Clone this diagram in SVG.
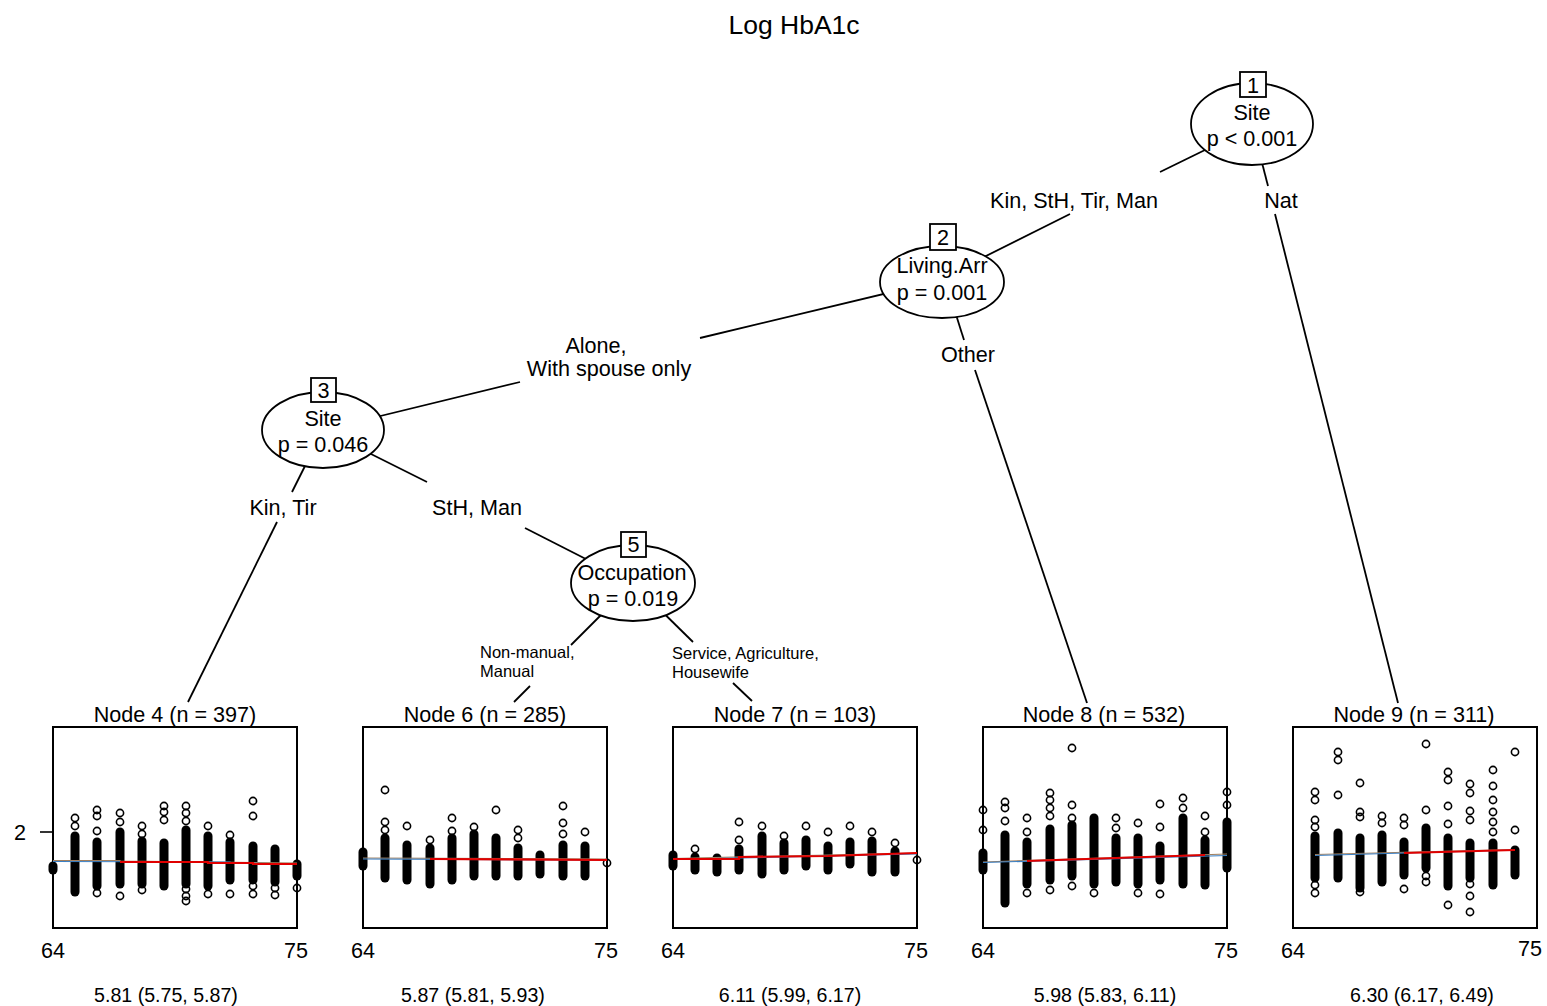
<svg xmlns="http://www.w3.org/2000/svg" width="1547" height="1006" viewBox="0 0 1547 1006">
<style>
text{font-family:"Liberation Sans",Arial,sans-serif;fill:#000}
.t21{font-size:21.6px}
.ttl{font-size:26.5px}
.sm{font-size:16.5px}
.bot{font-size:19.6px}
.edge{stroke:#000;stroke-width:1.8;fill:none}
.ell{fill:#fff;stroke:#000;stroke-width:1.8}
.box{fill:#fff;stroke:#000;stroke-width:1.8}
.frame{fill:#fff;stroke:#000;stroke-width:2}
.pt{fill:none;stroke:#000;stroke-width:1.6}
.bar{stroke:#000;stroke-width:9;stroke-linecap:round}
.fr{stroke:#e00000;stroke-width:2.2;fill:none}
.fb{stroke:#3a7fc4;stroke-width:1.2;fill:none}
.ft{stroke:#a08060;stroke-width:1.2;fill:none}
</style>
<text class="ttl" x="794" y="34" text-anchor="middle">Log HbA1c</text>
<g id="connectors">
<line class="edge" x1="1252" y1="127" x2="1160" y2="172"/>
<line class="edge" x1="1070" y1="214" x2="942" y2="278"/>
<line class="edge" x1="1252" y1="124" x2="1268" y2="186"/>
<line class="edge" x1="1275" y1="214" x2="1398" y2="703"/>
<line class="edge" x1="942" y1="280" x2="700" y2="338"/>
<line class="edge" x1="520" y1="382" x2="323" y2="430"/>
<line class="edge" x1="945" y1="280" x2="964" y2="340"/>
<line class="edge" x1="975" y1="370" x2="1087" y2="703"/>
<line class="edge" x1="323" y1="430" x2="292" y2="492"/>
<line class="edge" x1="277" y1="522" x2="188" y2="702"/>
<line class="edge" x1="323" y1="430" x2="427" y2="482"/>
<line class="edge" x1="525" y1="528" x2="633" y2="583"/>
<line class="edge" x1="633" y1="583" x2="571" y2="645"/>
<line class="edge" x1="530" y1="686" x2="514" y2="702"/>
<line class="edge" x1="633" y1="583" x2="693" y2="642"/>
<line class="edge" x1="733" y1="683" x2="752" y2="701"/>
<text class="t21" x="1074" y="207.5" text-anchor="middle">Kin, StH, Tir, Man</text>
<text class="t21" x="1281" y="207.5" text-anchor="middle">Nat</text>
<text class="t21" x="596" y="352.5" text-anchor="middle">Alone,</text>
<text class="t21" x="609" y="376" text-anchor="middle">With spouse only</text>
<text class="t21" x="968" y="362" text-anchor="middle">Other</text>
<text class="t21" x="283" y="515" text-anchor="middle">Kin, Tir</text>
<text class="t21" x="477" y="515" text-anchor="middle">StH, Man</text>
<text class="sm" x="480" y="658">Non-manual,</text>
<text class="sm" x="480" y="677">Manual</text>
<text class="sm" x="672" y="659">Service, Agriculture,</text>
<text class="sm" x="672" y="678">Housewife</text>
</g>
<g id="node1">
<ellipse class="ell" cx="1252" cy="124" rx="61" ry="41"/>
<rect class="box" x="1240" y="72" width="26" height="25"/>
<text class="t21" x="1253" y="92.5" text-anchor="middle">1</text>
<text class="t21" x="1252" y="119.5" text-anchor="middle">Site</text>
<text class="t21" x="1252" y="145.5" text-anchor="middle">p &lt; 0.001</text>
</g>
<g id="node2">
<ellipse class="ell" cx="942" cy="282" rx="62" ry="36"/>
<rect class="box" x="930" y="224" width="26" height="26"/>
<text class="t21" x="943" y="244.5" text-anchor="middle">2</text>
<text class="t21" x="942" y="273" text-anchor="middle">Living.Arr</text>
<text class="t21" x="942" y="299.5" text-anchor="middle">p = 0.001</text>
</g>
<g id="node3">
<ellipse class="ell" cx="323" cy="430" rx="61" ry="38"/>
<rect class="box" x="311" y="378" width="25" height="24"/>
<text class="t21" x="323.5" y="397.5" text-anchor="middle">3</text>
<text class="t21" x="323" y="425.5" text-anchor="middle">Site</text>
<text class="t21" x="323" y="452" text-anchor="middle">p = 0.046</text>
</g>
<g id="node5">
<ellipse class="ell" cx="633" cy="583" rx="62" ry="38"/>
<rect class="box" x="621" y="532" width="25" height="25"/>
<text class="t21" x="633.5" y="552" text-anchor="middle">5</text>
<text class="t21" x="632" y="579.5" text-anchor="middle">Occupation</text>
<text class="t21" x="633" y="605.5" text-anchor="middle">p = 0.019</text>
</g>
<g id="node4">
<text class="t21" x="175" y="721.5" text-anchor="middle">Node 4 (n = 397)</text>
<rect class="frame" x="53" y="727" width="244" height="201"/>
<line x1="40" y1="832" x2="53" y2="832" stroke="#000" stroke-width="1.6"/>
<text class="t21" x="20" y="839.5" text-anchor="middle">2</text>
<g>
<line class="bar" x1="53" y1="866" x2="53" y2="870"/>
<line class="bar" x1="75" y1="836" x2="75" y2="892"/><circle class="pt" cx="75" cy="818" r="3.6"/><circle class="pt" cx="75" cy="826" r="3.6"/>
<line class="bar" x1="97" y1="842" x2="97" y2="886"/><circle class="pt" cx="97" cy="810" r="3.6"/><circle class="pt" cx="97" cy="816" r="3.6"/><circle class="pt" cx="97" cy="831" r="3.6"/><circle class="pt" cx="97" cy="893" r="3.6"/>
<line class="bar" x1="120" y1="832" x2="120" y2="884"/><circle class="pt" cx="120" cy="813" r="3.6"/><circle class="pt" cx="120" cy="822" r="3.6"/><circle class="pt" cx="120" cy="896" r="3.6"/>
<line class="bar" x1="142" y1="841" x2="142" y2="884"/><circle class="pt" cx="142" cy="826" r="3.6"/><circle class="pt" cx="142" cy="834" r="3.6"/><circle class="pt" cx="142" cy="890" r="3.6"/>
<line class="bar" x1="164" y1="843" x2="164" y2="886"/><circle class="pt" cx="164" cy="806" r="3.6"/><circle class="pt" cx="164" cy="812" r="3.6"/><circle class="pt" cx="164" cy="820" r="3.6"/>
<line class="bar" x1="186" y1="830" x2="186" y2="884"/><circle class="pt" cx="186" cy="806" r="3.6"/><circle class="pt" cx="186" cy="813" r="3.6"/><circle class="pt" cx="186" cy="821" r="3.6"/><circle class="pt" cx="186" cy="889" r="3.6"/><circle class="pt" cx="186" cy="896" r="3.6"/><circle class="pt" cx="186" cy="901" r="3.6"/>
<line class="bar" x1="208" y1="836" x2="208" y2="886"/><circle class="pt" cx="208" cy="826" r="3.6"/><circle class="pt" cx="208" cy="894" r="3.6"/>
<line class="bar" x1="230" y1="842" x2="230" y2="880"/><circle class="pt" cx="230" cy="835" r="3.6"/><circle class="pt" cx="230" cy="894" r="3.6"/>
<line class="bar" x1="253" y1="846" x2="253" y2="880"/><circle class="pt" cx="253" cy="801" r="3.6"/><circle class="pt" cx="253" cy="816" r="3.6"/><circle class="pt" cx="253" cy="886" r="3.6"/><circle class="pt" cx="253" cy="894" r="3.6"/>
<line class="bar" x1="275" y1="849" x2="275" y2="882"/><circle class="pt" cx="275" cy="888" r="3.6"/><circle class="pt" cx="275" cy="895" r="3.6"/>
<line class="bar" x1="297" y1="864" x2="297" y2="876"/><circle class="pt" cx="297" cy="888" r="3.6"/>
</g>
<polyline class="ft" points="53,860.5 120,860.5 120,861 297,863"/>
<polyline class="fb" points="53,861.5 230,862 230,863 297,864"/>
<polyline class="fr" points="120,862 208,862 208,863 253,863 253,864 297,864"/>
<text class="t21" x="53" y="958" text-anchor="middle">64</text>
<text class="t21" x="296" y="958" text-anchor="middle">75</text>
<text class="bot" x="166" y="1002" text-anchor="middle">5.81 (5.75, 5.87)</text>
</g>
<g id="node6">
<text class="t21" x="485" y="721.5" text-anchor="middle">Node 6 (n = 285)</text>
<rect class="frame" x="363" y="727" width="244" height="201"/>
<g>
<line class="bar" x1="363" y1="852" x2="363" y2="866"/>
<line class="bar" x1="385" y1="838" x2="385" y2="878"/><circle class="pt" cx="385" cy="790" r="3.6"/><circle class="pt" cx="385" cy="822" r="3.6"/><circle class="pt" cx="385" cy="830" r="3.6"/>
<line class="bar" x1="407" y1="845" x2="407" y2="880"/><circle class="pt" cx="407" cy="826" r="3.6"/>
<line class="bar" x1="430" y1="848" x2="430" y2="884"/><circle class="pt" cx="430" cy="840" r="3.6"/>
<line class="bar" x1="452" y1="838" x2="452" y2="880"/><circle class="pt" cx="452" cy="818" r="3.6"/><circle class="pt" cx="452" cy="831" r="3.6"/>
<line class="bar" x1="474" y1="834" x2="474" y2="876"/><circle class="pt" cx="474" cy="827" r="3.6"/>
<line class="bar" x1="496" y1="838" x2="496" y2="876"/><circle class="pt" cx="496" cy="810" r="3.6"/>
<line class="bar" x1="518" y1="848" x2="518" y2="876"/><circle class="pt" cx="518" cy="830" r="3.6"/><circle class="pt" cx="518" cy="838" r="3.6"/>
<line class="bar" x1="540" y1="855" x2="540" y2="874"/>
<line class="bar" x1="563" y1="845" x2="563" y2="876"/><circle class="pt" cx="563" cy="806" r="3.6"/><circle class="pt" cx="563" cy="823" r="3.6"/><circle class="pt" cx="563" cy="834" r="3.6"/>
<line class="bar" x1="585" y1="846" x2="585" y2="876"/><circle class="pt" cx="585" cy="832" r="3.6"/>
<circle class="pt" cx="607" cy="863" r="3.6"/>
</g>
<polyline class="ft" points="363,858 607,859"/>
<polyline class="fb" points="363,859 607,860"/>
<polyline class="fr" points="430,859 607,860"/>
<text class="t21" x="363" y="958" text-anchor="middle">64</text>
<text class="t21" x="606" y="958" text-anchor="middle">75</text>
<text class="bot" x="473" y="1002" text-anchor="middle">5.87 (5.81, 5.93)</text>
</g>
<g id="node7">
<text class="t21" x="795" y="721.5" text-anchor="middle">Node 7 (n = 103)</text>
<rect class="frame" x="673" y="727" width="244" height="201"/>
<g>
<line class="bar" x1="673" y1="855" x2="673" y2="866"/>
<line class="bar" x1="695" y1="857" x2="695" y2="870"/><circle class="pt" cx="695" cy="849" r="3.6"/>
<line class="bar" x1="717" y1="858" x2="717" y2="872"/>
<line class="bar" x1="739" y1="849" x2="739" y2="870"/><circle class="pt" cx="739" cy="822" r="3.6"/><circle class="pt" cx="739" cy="840" r="3.6"/>
<line class="bar" x1="762" y1="836" x2="762" y2="874"/><circle class="pt" cx="762" cy="826" r="3.6"/>
<line class="bar" x1="784" y1="843" x2="784" y2="870"/><circle class="pt" cx="784" cy="836" r="3.6"/>
<line class="bar" x1="806" y1="840" x2="806" y2="866"/><circle class="pt" cx="806" cy="826" r="3.6"/>
<line class="bar" x1="828" y1="846" x2="828" y2="870"/><circle class="pt" cx="828" cy="832" r="3.6"/>
<line class="bar" x1="850" y1="842" x2="850" y2="864"/><circle class="pt" cx="850" cy="826" r="3.6"/>
<line class="bar" x1="872" y1="841" x2="872" y2="872"/><circle class="pt" cx="872" cy="832" r="3.6"/>
<line class="bar" x1="895" y1="851" x2="895" y2="872"/><circle class="pt" cx="895" cy="843" r="3.6"/>
<circle class="pt" cx="917" cy="860" r="3.6"/>
</g>
<polyline class="ft" points="673,858.5 917,853"/>
<polyline class="fb" points="673,859.5 917,854"/>
<polyline class="fr" points="673,859 739,859 739,857 828,856 917,853"/>
<text class="t21" x="673" y="958" text-anchor="middle">64</text>
<text class="t21" x="916" y="958" text-anchor="middle">75</text>
<text class="bot" x="790" y="1002" text-anchor="middle">6.11 (5.99, 6.17)</text>
</g>
<g id="node8">
<text class="t21" x="1104" y="721.5" text-anchor="middle">Node 8 (n = 532)</text>
<rect class="frame" x="983" y="727" width="244" height="201"/>
<g>
<line class="bar" x1="983" y1="853" x2="983" y2="870"/><circle class="pt" cx="983" cy="810" r="3.6"/><circle class="pt" cx="983" cy="830" r="3.6"/>
<line class="bar" x1="1005" y1="835" x2="1005" y2="903"/><circle class="pt" cx="1005" cy="802" r="3.6"/><circle class="pt" cx="1005" cy="808" r="3.6"/><circle class="pt" cx="1005" cy="821" r="3.6"/>
<line class="bar" x1="1027" y1="842" x2="1027" y2="884"/><circle class="pt" cx="1027" cy="818" r="3.6"/><circle class="pt" cx="1027" cy="832" r="3.6"/><circle class="pt" cx="1027" cy="893" r="3.6"/>
<line class="bar" x1="1050" y1="829" x2="1050" y2="880"/><circle class="pt" cx="1050" cy="793" r="3.6"/><circle class="pt" cx="1050" cy="800" r="3.6"/><circle class="pt" cx="1050" cy="808" r="3.6"/><circle class="pt" cx="1050" cy="816" r="3.6"/><circle class="pt" cx="1050" cy="890" r="3.6"/>
<line class="bar" x1="1072" y1="825" x2="1072" y2="876"/><circle class="pt" cx="1072" cy="748" r="3.6"/><circle class="pt" cx="1072" cy="805" r="3.6"/><circle class="pt" cx="1072" cy="818" r="3.6"/><circle class="pt" cx="1072" cy="886" r="3.6"/>
<line class="bar" x1="1094" y1="818" x2="1094" y2="884"/><circle class="pt" cx="1094" cy="893" r="3.6"/>
<line class="bar" x1="1116" y1="838" x2="1116" y2="882"/><circle class="pt" cx="1116" cy="818" r="3.6"/><circle class="pt" cx="1116" cy="828" r="3.6"/>
<line class="bar" x1="1138" y1="838" x2="1138" y2="884"/><circle class="pt" cx="1138" cy="823" r="3.6"/><circle class="pt" cx="1138" cy="893" r="3.6"/>
<line class="bar" x1="1160" y1="846" x2="1160" y2="880"/><circle class="pt" cx="1160" cy="804" r="3.6"/><circle class="pt" cx="1160" cy="827" r="3.6"/><circle class="pt" cx="1160" cy="894" r="3.6"/>
<line class="bar" x1="1183" y1="818" x2="1183" y2="884"/><circle class="pt" cx="1183" cy="798" r="3.6"/><circle class="pt" cx="1183" cy="808" r="3.6"/>
<line class="bar" x1="1205" y1="840" x2="1205" y2="885"/><circle class="pt" cx="1205" cy="816" r="3.6"/><circle class="pt" cx="1205" cy="832" r="3.6"/>
<line class="bar" x1="1227" y1="822" x2="1227" y2="868"/><circle class="pt" cx="1227" cy="792" r="3.6"/><circle class="pt" cx="1227" cy="805" r="3.6"/>
</g>
<polyline class="ft" points="983,862 1227,854"/>
<polyline class="fb" points="983,862.5 1227,855.5"/>
<polyline class="fr" points="1027,861 1116,858 1205,855"/>
<text class="t21" x="983" y="958" text-anchor="middle">64</text>
<text class="t21" x="1226" y="958" text-anchor="middle">75</text>
<text class="bot" x="1105" y="1002" text-anchor="middle">5.98 (5.83, 6.11)</text>
</g>
<g id="node9">
<text class="t21" x="1414" y="721.5" text-anchor="middle">Node 9 (n = 311)</text>
<rect class="frame" x="1293" y="727" width="244" height="201"/>
<g>
<line class="bar" x1="1315" y1="836" x2="1315" y2="878"/><circle class="pt" cx="1315" cy="792" r="3.6"/><circle class="pt" cx="1315" cy="800" r="3.6"/><circle class="pt" cx="1315" cy="820" r="3.6"/><circle class="pt" cx="1315" cy="827" r="3.6"/><circle class="pt" cx="1315" cy="885" r="3.6"/><circle class="pt" cx="1315" cy="893" r="3.6"/>
<line class="bar" x1="1338" y1="833" x2="1338" y2="878"/><circle class="pt" cx="1338" cy="752" r="3.6"/><circle class="pt" cx="1338" cy="760" r="3.6"/><circle class="pt" cx="1338" cy="795" r="3.6"/>
<line class="bar" x1="1360" y1="838" x2="1360" y2="888"/><circle class="pt" cx="1360" cy="783" r="3.6"/><circle class="pt" cx="1360" cy="812" r="3.6"/><circle class="pt" cx="1360" cy="817" r="3.6"/><circle class="pt" cx="1360" cy="892" r="3.6"/>
<line class="bar" x1="1382" y1="835" x2="1382" y2="882"/><circle class="pt" cx="1382" cy="816" r="3.6"/><circle class="pt" cx="1382" cy="823" r="3.6"/>
<line class="bar" x1="1404" y1="842" x2="1404" y2="875"/><circle class="pt" cx="1404" cy="818" r="3.6"/><circle class="pt" cx="1404" cy="825" r="3.6"/><circle class="pt" cx="1404" cy="889" r="3.6"/>
<line class="bar" x1="1426" y1="828" x2="1426" y2="868"/><circle class="pt" cx="1426" cy="744" r="3.6"/><circle class="pt" cx="1426" cy="810" r="3.6"/><circle class="pt" cx="1426" cy="876" r="3.6"/><circle class="pt" cx="1426" cy="882" r="3.6"/>
<line class="bar" x1="1448" y1="838" x2="1448" y2="886"/><circle class="pt" cx="1448" cy="772" r="3.6"/><circle class="pt" cx="1448" cy="780" r="3.6"/><circle class="pt" cx="1448" cy="806" r="3.6"/><circle class="pt" cx="1448" cy="824" r="3.6"/><circle class="pt" cx="1448" cy="905" r="3.6"/>
<line class="bar" x1="1470" y1="843" x2="1470" y2="878"/><circle class="pt" cx="1470" cy="784" r="3.6"/><circle class="pt" cx="1470" cy="793" r="3.6"/><circle class="pt" cx="1470" cy="811" r="3.6"/><circle class="pt" cx="1470" cy="820" r="3.6"/><circle class="pt" cx="1470" cy="884" r="3.6"/><circle class="pt" cx="1470" cy="896" r="3.6"/><circle class="pt" cx="1470" cy="912" r="3.6"/>
<line class="bar" x1="1493" y1="843" x2="1493" y2="885"/><circle class="pt" cx="1493" cy="770" r="3.6"/><circle class="pt" cx="1493" cy="786" r="3.6"/><circle class="pt" cx="1493" cy="800" r="3.6"/><circle class="pt" cx="1493" cy="812" r="3.6"/><circle class="pt" cx="1493" cy="822" r="3.6"/><circle class="pt" cx="1493" cy="832" r="3.6"/>
<line class="bar" x1="1515" y1="850" x2="1515" y2="875"/><circle class="pt" cx="1515" cy="752" r="3.6"/><circle class="pt" cx="1515" cy="830" r="3.6"/>
</g>
<polyline class="ft" points="1315,854.5 1515,849.5"/>
<polyline class="fb" points="1315,855.5 1515,850"/>
<polyline class="fr" points="1404,853 1515,850"/>
<text class="t21" x="1293" y="958" text-anchor="middle">64</text>
<text class="t21" x="1530" y="956" text-anchor="middle">75</text>
<text class="bot" x="1422" y="1002" text-anchor="middle">6.30 (6.17, 6.49)</text>
</g>
</svg>
